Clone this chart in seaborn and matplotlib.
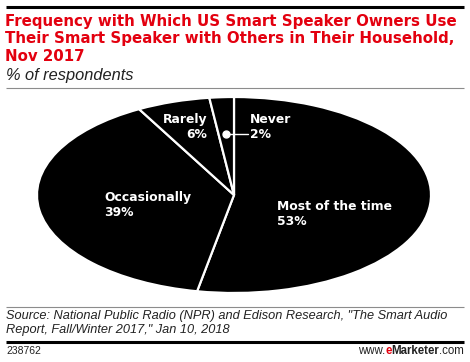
import seaborn as sns
import matplotlib.pyplot as plt
import numpy as np
from matplotlib.lines import Line2D

# data
categories = ["Most of the time", "Occasionally", "Rarely", "Never"]
shares = [53, 39, 6, 2]

RED = "#e3000f"
W, H = 470, 362

sns.set_theme(style="white")
plt.rcParams["font.family"] = ["Liberation Sans", "DejaVu Sans"]

fig = plt.figure(figsize=(W / 100, H / 100), dpi=100)
fig.patch.set_facecolor("white")


def fy(py):
    return 1 - py / H


def fx(px):
    return px / W


def hline(py, lw, color, x0=6, x1=464):
    fig.add_artist(Line2D([fx(x0), fx(x1)], [fy(py), fy(py)], lw=lw, color=color,
                          transform=fig.transFigure, solid_capstyle="butt"))


# header
hline(6.5, 2.2, "black")
fig.text(fx(5), fy(14), "Frequency with Which US Smart Speaker Owners Use\n"
         "Their Smart Speaker with Others in Their Household,\nNov 2017",
         color=RED, fontsize=10.8, fontweight="bold", family="DejaVu Sans",
         va="top", ha="left", linespacing=1.2)
fig.text(fx(6), fy(68), "% of respondents", color="#222222", fontsize=11.8,
         style="italic", va="top", ha="left")
hline(87.5, 0.8, "#8c8c8c")

# pie drawn as an ellipse (stretched circle)
cx, cy, a, b = 234, 195, 197, 98
ax = fig.add_axes([fx(cx - a), fy(cy + b), 2 * a / W, 2 * b / H])
wedges, _ = ax.pie(shares, startangle=90, counterclock=False,
                   colors=["black"] * len(shares),
                   wedgeprops=dict(edgecolor="white", linewidth=1.6))
ax.set_aspect("auto")
ax.set_xlim(-1, 1)
ax.set_ylim(-1, 1)
ax.axis("off")

lbl = dict(color="white", fontsize=8.9, fontweight="bold", family="DejaVu Sans",
           va="center", linespacing=1.2)
ax.text(0.218, -0.19, f"{categories[0]}\n{shares[0]}%", ha="left", **lbl)
ax.text(-0.66, -0.10, f"{categories[1]}\n{shares[1]}%", ha="left", **lbl)
ax.text(-0.137, 0.69, f"{categories[2]}\n{shares[2]}%", ha="right", multialignment="right", **lbl)
ax.text(0.081, 0.69, f"{categories[3]}\n{shares[3]}%", ha="left", **lbl)

# leader for the small "Never" slice
w = wedges[3]
mid = np.deg2rad((w.theta1 + w.theta2) / 2)
dx, dy = 0.62 * np.cos(mid), 0.62 * np.sin(mid)
ax.plot([dx, 0.072], [dy, dy], color="white", lw=1.0)
ax.plot([dx], [dy], "o", color="white", ms=5)

# footer
hline(306.5, 0.8, "#8c8c8c")
fig.text(fx(6), fy(310), "Source: National Public Radio (NPR) and Edison Research, \"The Smart Audio\n"
         "Report, Fall/Winter 2017,\" Jan 10, 2018", color="#222222", fontsize=9.15,
         style="italic", va="top", ha="left", linespacing=1.2)
hline(341.5, 2.2, "black")
fig.text(fx(6), fy(351), "238762", color="#222222", fontsize=7.5, va="center", ha="left")
fs = 8.3
t1 = fig.text(fx(464), fy(351), ".com", color="#222222", fontsize=fs, va="center", ha="right")
fig.canvas.draw()
r = fig.canvas.get_renderer()
bb = t1.get_window_extent(r)
t2 = fig.text(bb.x0 / W, fy(351), "Marketer", color="#222222", fontsize=fs,
              fontweight="bold", va="center", ha="right")
bb = t2.get_window_extent(r)
t3 = fig.text(bb.x0 / W, fy(351), "e", color=RED, fontsize=fs,
              fontweight="bold", va="center", ha="right")
bb = t3.get_window_extent(r)
fig.text(bb.x0 / W, fy(351), "www.", color="#222222", fontsize=fs, va="center", ha="right")

fig.savefig("out.png", dpi=100)
plt.close(fig)
